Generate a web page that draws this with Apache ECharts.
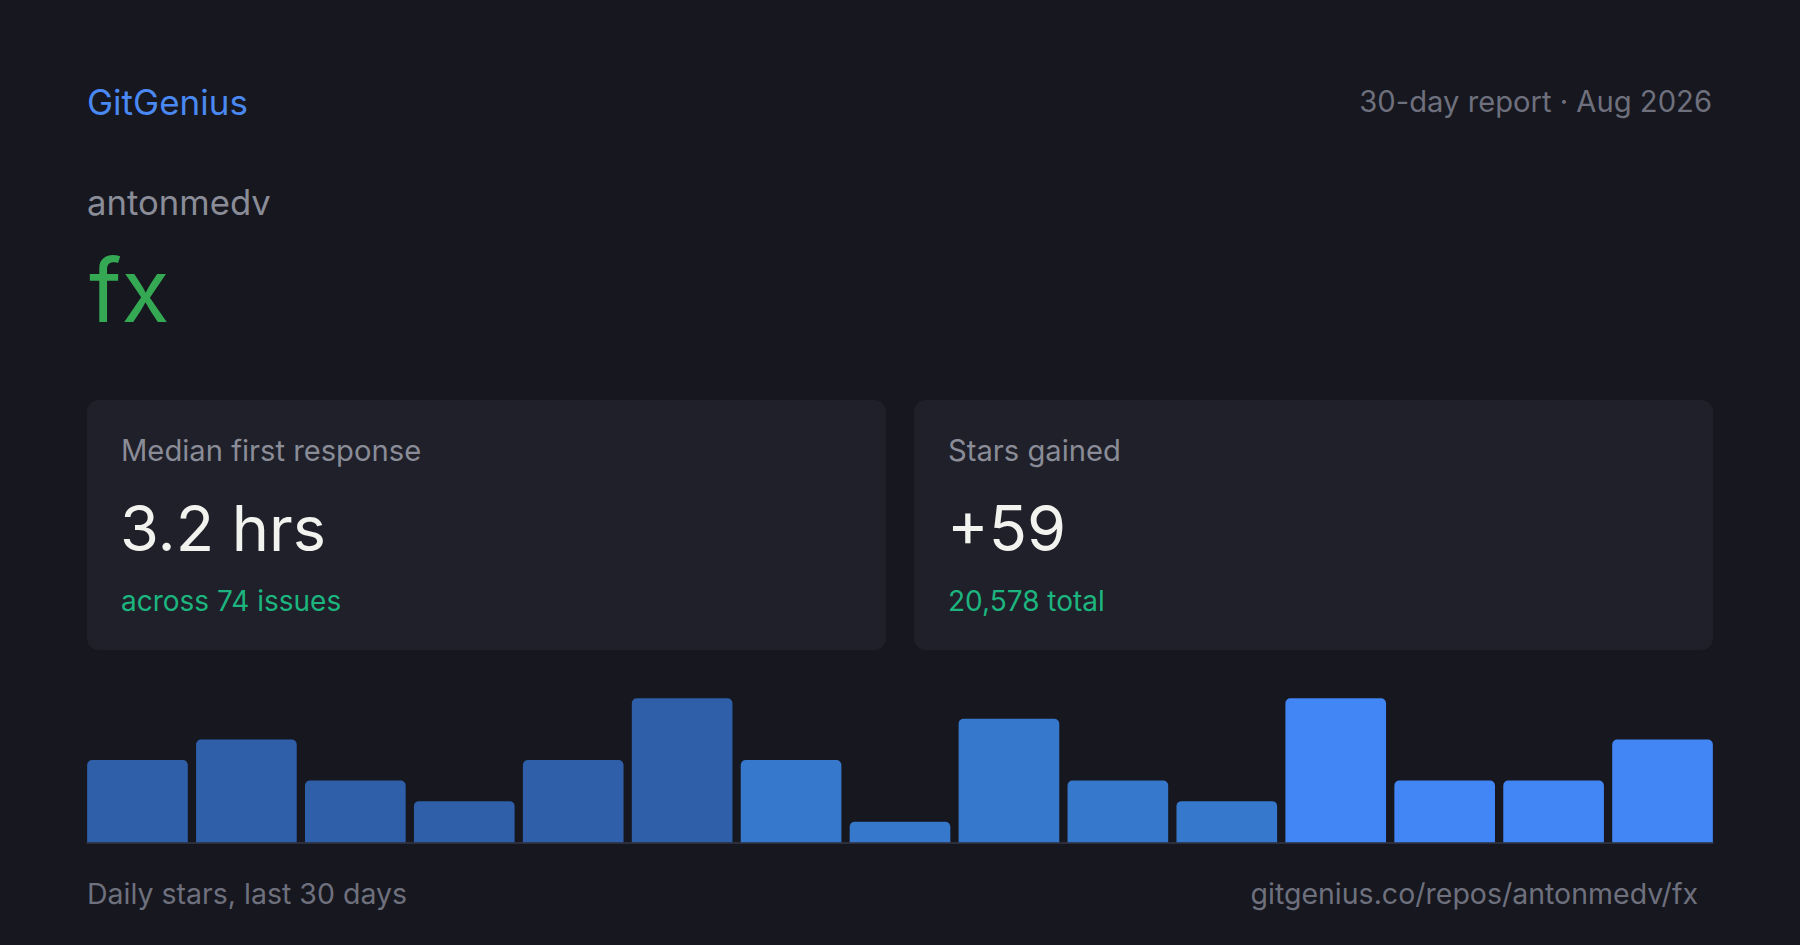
<!DOCTYPE html>
<html>
<head>
<meta charset="utf-8">
<script src="https://cdn.jsdelivr.net/npm/echarts@6/dist/echarts.min.js"></script>
<style>
html,body{margin:0;padding:0;background:#16171f;}
#chart{width:1800px;height:945px;}
</style>
</head>
<body>
<div id="chart"></div>
<script>
// ---- data ----
const periods = ['1-2','3-4','5-6','7-8','9-10','11-12','13-14','15-16','17-18','19-20','21-22','23-24','25-26','27-28','29-30'];
const dailyStars = [4, 5, 3, 2, 4, 7, 4, 1, 6, 3, 2, 7, 3, 3, 5];
const brand = 'GitGenius';
const reportLabel = '30-day report · Aug 2026';
const owner = 'antonmedv';
const repo = 'fx';
const statLabels = ['Median first response', 'Stars gained'];
const statValues = ['3.2 hrs', '+59'];
const statNotes = ['across 74 issues', '20,578 total'];
const footerLeft = 'Daily stars, last 30 days';
const footerRight = 'gitgenius.co/repos/antonmedv/fx';

// ---- style ----
const FONT = 'Inter, "Noto Sans", sans-serif';
const shade = i => (i < 6 ? '#2e5fa8' : (i < 11 ? '#3678cb' : '#4285f4'));

const chart = echarts.init(document.getElementById('chart'), null, {renderer: 'svg'});

function txt(x, y, text, size, color, align) {
  return {
    type: 'text', x: x, y: y, silent: true,
    style: {text: text, fontSize: size, fontFamily: FONT, fill: color,
            align: align || 'left', verticalAlign: 'middle'}
  };
}

const cardX = [87, 914];
const graphics = [
  txt(87, 102.3, brand, 35, '#4a88f2'),
  txt(1712, 101.7, reportLabel, 29.2, '#6e707d', 'right'),
  txt(87, 201.7, owner, 34.7, '#8a8c97'),
  txt(89, 289.7, repo, 88, '#34a853'),
  txt(87, 893.6, footerLeft, 28.5, '#6e707d'),
  txt(1698, 893.6, footerRight, 28.5, '#6e707d', 'right')
];
cardX.forEach((cx, i) => {
  graphics.push({
    type: 'rect', silent: true, z: -1,
    shape: {x: cx, y: 400, width: 799, height: 250, r: 12},
    style: {fill: '#1f2029'}
  });
  graphics.push(txt(cx + 34, 450, statLabels[i], 29.2, '#8a8c97'));
  graphics.push(txt(cx + 33, 528, statValues[i], 63, '#f2f2ee'));
  graphics.push(txt(cx + 34, 600.8, statNotes[i], 28, '#1db57f'));
});

chart.setOption({
  backgroundColor: '#16171f',
  animation: false,
  graphic: graphics,
  grid: [
    {left: 83, right: 83, top: 698.3, bottom: 102.7},
    {left: 87, right: 87, top: 698.3, bottom: 102.2}
  ],
  xAxis: [
    {type: 'category', data: periods, gridIndex: 0,
     axisLine: {show: false}, axisTick: {show: false}, axisLabel: {show: false}},
    {type: 'value', gridIndex: 1, min: 0, max: 1,
     axisLine: {show: true, lineStyle: {color: '#2c2e3b', width: 2}},
     axisTick: {show: false}, axisLabel: {show: false}, splitLine: {show: false}}
  ],
  yAxis: [
    {type: 'value', gridIndex: 0, min: 0, max: 7, show: false, splitLine: {show: false}},
    {type: 'value', gridIndex: 1, show: false, splitLine: {show: false}}
  ],
  series: [{
    type: 'bar',
    xAxisIndex: 0, yAxisIndex: 0,
    barCategoryGap: '7.6%',
    data: dailyStars.map((v, i) => ({value: v, itemStyle: {color: shade(i)}})),
    itemStyle: {borderRadius: [5, 5, 0, 0]}
  }]
});
</script>
</body>
</html>
